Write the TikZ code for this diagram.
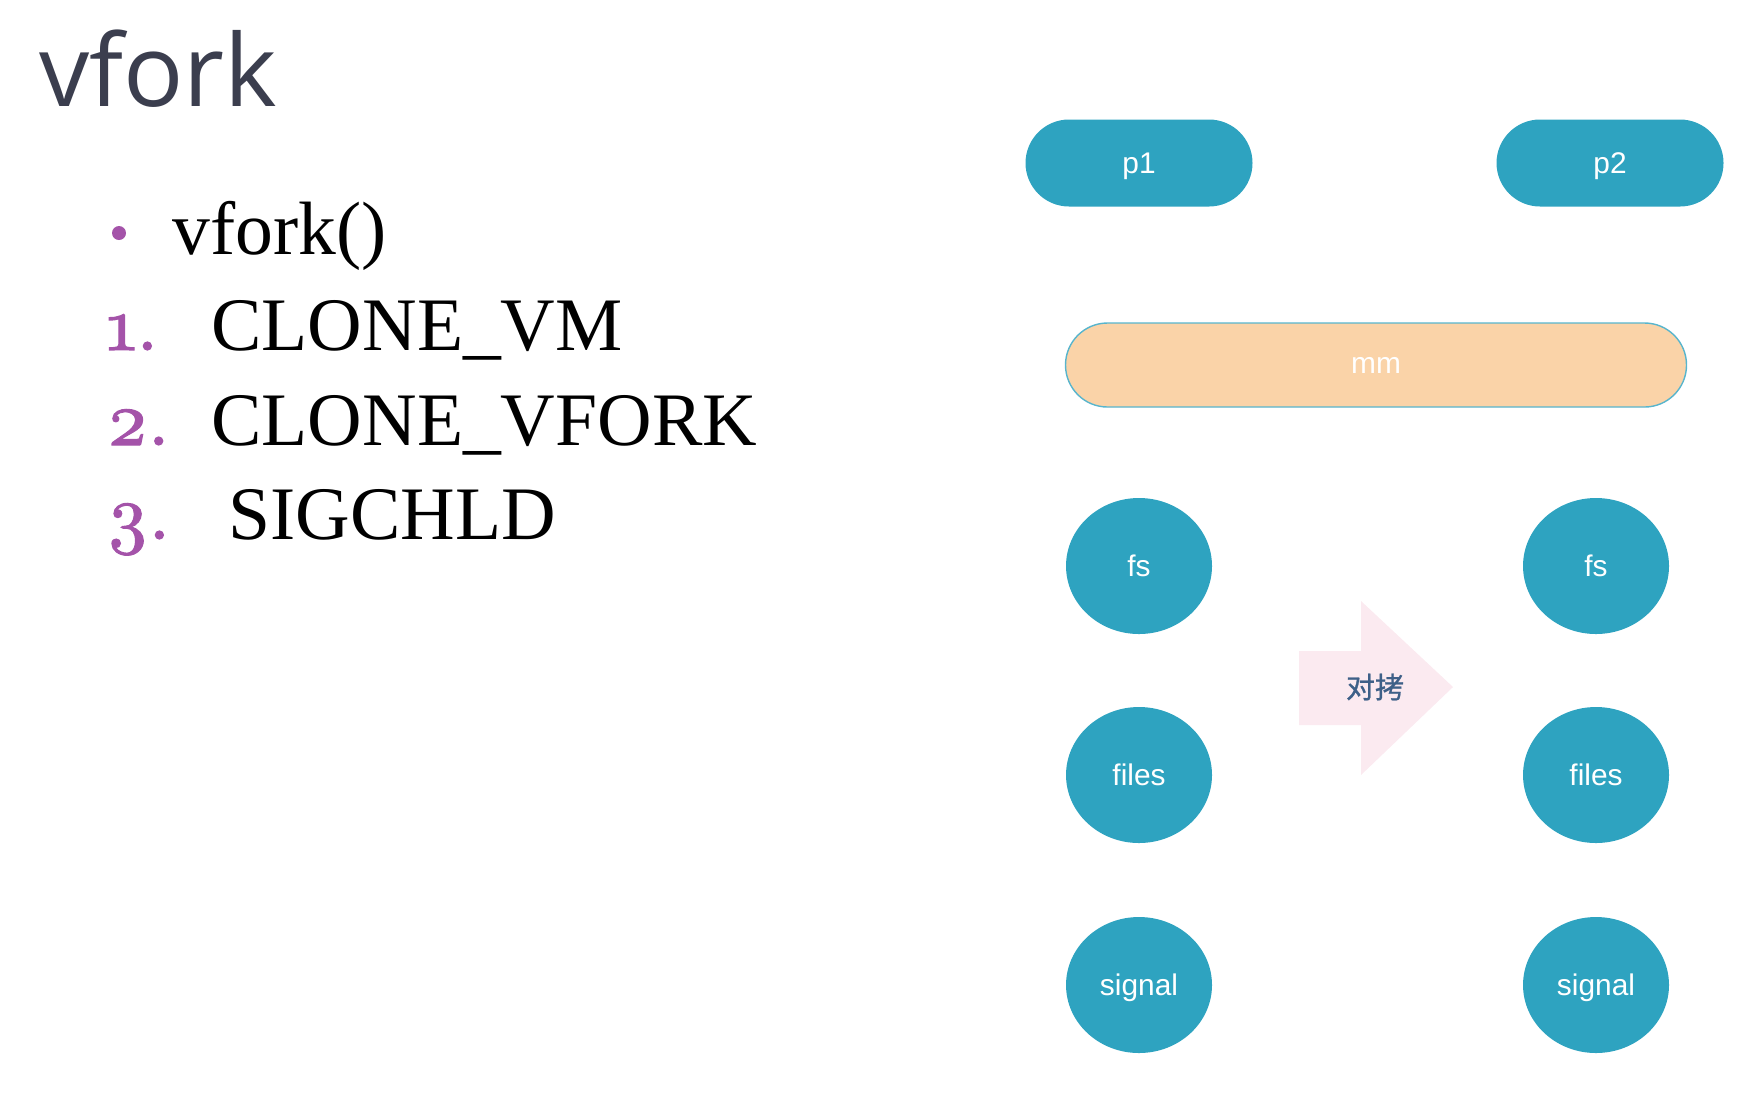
\documentclass[tikz,border=0pt]{standalone}
\usepackage{fontspec}
\usetikzlibrary{shapes.geometric}
\setmainfont{Liberation Serif}
\setsansfont{Liberation Sans}
\newfontfamily\titlefont{Open Sans}
\newfontfamily\cjk{Noto Sans CJK SC}[FakeBold=0.8]
\newfontfamily\numfont{lmroman10-regular}[Extension=.otf,Numbers=OldStyle,FakeBold=1.6]

\definecolor{procblue}{HTML}{2EA3C0}
\definecolor{mmpeach}{HTML}{FAD3A8}
\definecolor{copypink}{HTML}{FBEAF0}
\definecolor{titlegrey}{HTML}{3B3E4E}
\definecolor{listpurple}{HTML}{A453A9}
\definecolor{copytext}{HTML}{3E6088}

\tikzset{
  proc/.style={rectangle, rounded corners=0.87cm, fill=procblue,
    minimum width=4.54cm, minimum height=1.74cm, text=white,
    text depth=0pt, font=\sffamily\fontsize{17}{20}\selectfont},
  res/.style={ellipse, fill=procblue, minimum width=2.92cm,
    minimum height=2.72cm, inner sep=0pt, text=white,
    text depth=0pt, font=\sffamily\fontsize{17}{20}\selectfont},
  item/.style={anchor=base west, inner sep=0pt,
    font=\fontsize{43}{50}\selectfont},
  num/.style={anchor=base west, inner sep=0pt, text=listpurple,
    font=\numfont\fontsize{43}{50}\selectfont},
}

\begin{document}
\begin{tikzpicture}
    \useasboundingbox (0,0) rectangle (34.88,-22.04);
    % Titre
    \node (title) [anchor=base west, inner sep=0pt, text=titlegrey,
      font=\titlefont\fontsize{57}{66}\selectfont] at (0.78,-2.12) {vfork};
    % Liste
    \fill [listpurple] (2.38,-4.66) circle (.14);
    \node (call) [item] at (3.44,-5.08) {vfork()};
    \node (n1) [num] at (2.12,-7.00) {1.};
    \node (vm) [item] at (4.22,-7.00) {CLONE\_VM};
    \node (n2) [num] at (2.12,-8.90) {2.};
    \node (vf) [item] at (4.22,-8.90) {CLONE\_VFORK};
    \node (n3) [num] at (2.12,-10.78) {3.};
    \node (sig) [item] at (4.56,-10.78) {SIGCHLD};
    % Processus
    \node (p1) [proc] at (22.78,-3.26) {p1};
    \node (p2) [proc] at (32.20,-3.26) {p2};
    % mm partage
    \node (mm) [rectangle, rounded corners=0.84cm, fill=mmpeach,
      draw=procblue!80, line width=0.8pt, minimum width=12.42cm,
      minimum height=1.68cm, text=white, text depth=0pt,
      font=\sffamily\fontsize{17}{20}\selectfont] at (27.52,-7.30) {mm};
    % Ressources
    \foreach \name/\y in {fs/-11.32, files/-15.50, signal/-19.70} {
      \node (l\name) [res] at (22.78,\y) {\name};
      \node (r\name) [res] at (31.92,\y) {\name};
    }
    % Fleche de copie
    \fill [copypink] (25.98,-13.02) -- (27.22,-13.02) -- (27.22,-12.02)
      -- (29.06,-13.74) -- (27.22,-15.50) -- (27.22,-14.50)
      -- (25.98,-14.50) -- cycle;
    \node (copy) [text=copytext, font=\cjk\fontsize{16.5}{20}\selectfont]
      at (27.50,-13.74) {对拷};
\end{tikzpicture}
\end{document}
